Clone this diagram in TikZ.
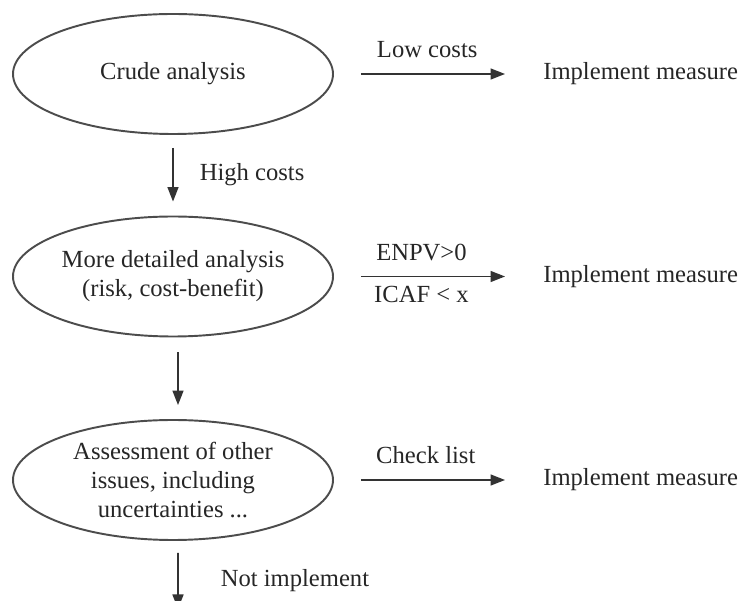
\documentclass[tikz,border=0pt]{standalone}
\usepackage{fontspec}
\setmainfont{Liberation Serif}
\usetikzlibrary{shapes.geometric,arrows.meta}
\begin{document}
\begin{tikzpicture}[font=\fontsize{14}{16.5}\selectfont, line join=round, >={Triangle[length=2.9mm,width=2.2mm]},
		oval/.style={ellipse, draw=black!70, line width=1.1pt, minimum width=6.4cm, minimum height=2.4cm, inner sep=0pt, align=center, text=black!85},
		flow/.style={->, draw=black!80, line width=0.9pt},
		res/.style={anchor=west, inner sep=0pt, text=black!85},
		tag/.style={inner sep=0pt, text=black!85}]
		\useasboundingbox (0,0) rectangle (14.86,-12.02);
		\clip (0,0) rectangle (14.86,-12.02);
		\def\rowa{-1.48} \def\rowb{-5.53} \def\rowc{-9.6}
		\node[oval] (e1) at (3.46,\rowa) {Crude analysis};
		\node[oval] (e2) at (3.46,\rowb) {More detailed analysis\\(risk, cost-benefit)};
		\node[oval] (e3) at (3.46,\rowc) {Assessment of other\\issues, including\\uncertainties ...};
		\node[res] (m1) at (10.86,\rowa) {Implement measure};
		\node[res] (m2) at (10.86,\rowb) {Implement measure};
		\node[res] (m3) at (10.86,\rowc) {Implement measure};
		\coordinate (stop) at (3.56,-12.18);
		\draw[flow] ([xshift=0.54cm]e1.east) -- node[tag,pos=0.46,above=0.3cm]{Low costs} ([xshift=-0.76cm]m1.west);
		\draw[flow] ([xshift=0.54cm]e2.east) -- node[tag,pos=0.42,above=0.3cm]{ENPV>0} node[tag,pos=0.42,below=0.17cm]{ICAF < x} ([xshift=-0.76cm]m2.west);
		\draw[flow] ([xshift=0.54cm]e3.east) -- node[tag,pos=0.45,above=0.3cm]{Check list} ([xshift=-0.76cm]m3.west);
		\draw[flow] ([yshift=-0.26cm]e1.south) -- node[tag,right=0.52cm]{High costs} ([yshift=0.28cm]e2.north);
		\draw[flow] ([xshift=0.1cm,yshift=-0.3cm]e2.south) -- ([xshift=0.1cm,yshift=0.28cm]e3.north);
		\draw[flow] ([xshift=0.1cm,yshift=-0.24cm]e3.south) -- node[tag,right=0.84cm]{Not implement} (stop);
		\end{tikzpicture}
\end{document}
